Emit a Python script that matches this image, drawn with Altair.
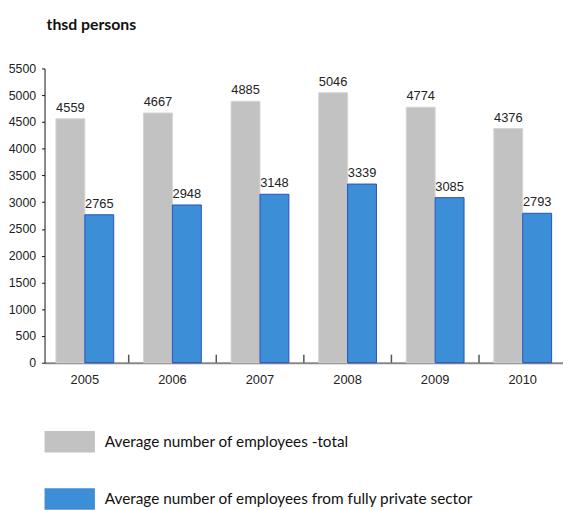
import altair as alt
import pandas as pd

years = ["2005", "2006", "2007", "2008", "2009", "2010"]
total = [4559, 4667, 4885, 5046, 4774, 4376]
private = [2765, 2948, 3148, 3339, 3085, 2793]
series = ["Average number of employees -total",
          "Average number of employees from fully private sector"]
y_ticks = list(range(0, 5501, 500))

rows = []
for i, yr in enumerate(years):
    rows.append({"year": yr, "series": series[0], "value": total[i]})
    rows.append({"year": yr, "series": series[1], "value": private[i]})
df = pd.DataFrame(rows)
sep_df = pd.DataFrame({"year": years[1:]})

NARROW = "Liberation Sans"

x_scale = alt.Scale(domain=years, paddingInner=0.34, paddingOuter=0.13)
y_scale = alt.Scale(domain=[0, 5500], nice=False)

x_axis = alt.Axis(title=None, labelAngle=0, ticks=False, labelPadding=11,
                  labelFont=NARROW, labelFontSize=13, labelColor="#222",
                  domainColor="#888", domainWidth=2)
x_enc = alt.X("year:N", scale=x_scale, sort=years, axis=x_axis)
y_axis = alt.Axis(title=None, values=y_ticks, format="d", grid=False, tickSize=3,
                  tickColor="#111", domainColor="#111", labelPadding=6,
                  labelFont=NARROW, labelFontSize=12.5, labelColor="#222")
y_enc = alt.Y("value:Q", scale=y_scale, axis=y_axis)
xo = alt.XOffset("series:N", sort=series, scale=alt.Scale(paddingInner=0, paddingOuter=0))

color = alt.Color("series:N", sort=series,
                  scale=alt.Scale(domain=series, range=["#c2c2c2", "#3c8ed6"]),
                  legend=alt.Legend(title=None, orient="none", legendX=0, legendY=352.5,
                                    direction="vertical",
                                    symbolType="M-1,-0.43H1V0.43H-1Z", symbolSize=2601,
                                    symbolStrokeWidth=0, symbolOpacity=1,
                                    rowPadding=21, labelOffset=10,
                                    labelFont="Lato", labelFontSize=15.5, labelColor="#111",
                                    labelLimit=600))
stroke = alt.Stroke("series:N", sort=series,
                    scale=alt.Scale(domain=series, range=["#d4d4d4", "#2a50bd"]),
                    legend=None)

base = alt.Chart(df)
bars = base.mark_bar(strokeWidth=1).encode(x=x_enc, xOffset=xo, y=y_enc,
                                           color=color, stroke=stroke)
labels = base.mark_text(baseline="bottom", dy=-4, font=NARROW, fontSize=13,
                        color="#222").encode(
    x=x_enc, xOffset=xo, y=y_enc, text="value:Q")
seps = alt.Chart(sep_df).mark_rule(color="#555", strokeWidth=1.5, xOffset=-15).encode(
    x=alt.X("year:N", scale=x_scale, sort=years, bandPosition=0, axis=x_axis),
    y=alt.Y(datum=0, scale=y_scale, axis=y_axis),
    y2=alt.Y2(datum=150))

chart = alt.layer(bars, labels, seps).properties(
    width=525, height=298,
    title=alt.Title("thsd persons", anchor="start", frame="group", offset=17,
                    baseline="alphabetic", font="Lato", fontSize=16, color="#111", dx=2),
    autosize=alt.AutoSizeParams(type="none"),
    padding={"left": 37, "top": 58, "right": 0, "bottom": 150},
).configure_view(stroke=None)

chart.save("out.html", embed_options={"renderer": "svg", "actions": False})
